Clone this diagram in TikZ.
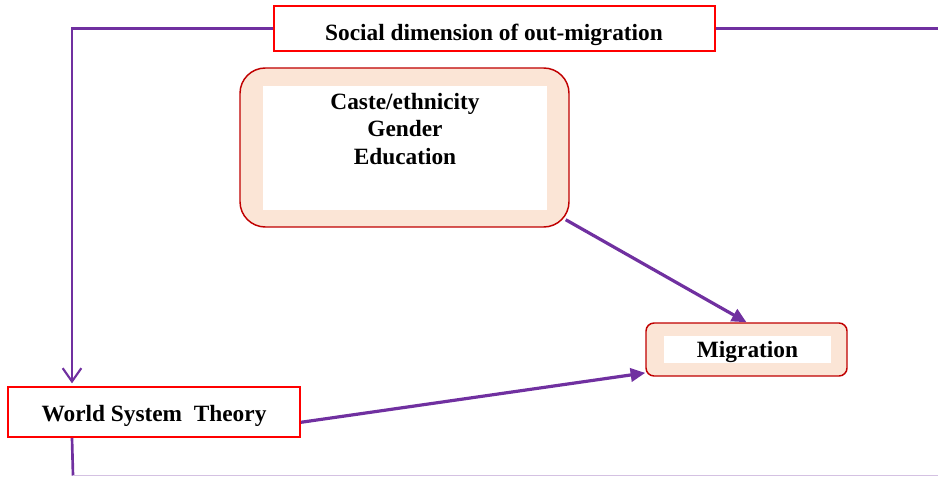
\documentclass[tikz,border=0pt]{standalone}
\usepackage{fontspec}
\setmainfont{Liberation Serif}
\usetikzlibrary{arrows.meta,positioning,calc}
\definecolor{linkpurple}{HTML}{7030A0}
\definecolor{boxred}{HTML}{FF0000}
\definecolor{darkred}{HTML}{C00000}
\definecolor{peach}{HTML}{FBE5D6}
\tikzset{
  plainbox/.style={draw=boxred,fill=white,line width=1.5pt,inner sep=0pt},
  framebox/.style={draw=darkred,fill=peach,line width=1.1pt,inner sep=0pt},
  innerbox/.style={fill=white,inner sep=0pt},
  boxtext/.style={font=\fontsize{17.5}{20.8}\selectfont\bfseries,align=center},
  linkarr/.style={-{Triangle[length=11pt,width=10pt]},line width=2.4pt,color=linkpurple},
  feedline/.style={line width=2pt,color=linkpurple}
}
\begin{document}
\begin{tikzpicture}[x=0.75pt,y=-0.75pt]
  \useasboundingbox (0,0) rectangle (938,477);
  % boxes
  \node[plainbox,minimum width=330.75pt,minimum height=33.75pt] (social) at (494.5,28.5) {};
  \node[boxtext] (socialtext) at (494,34.5) {Social dimension of out-migration};

  \node[framebox,rounded corners=19pt,minimum width=246.75pt,minimum height=119.25pt] (caste) at (404.5,147.5) {};
  \node[innerbox,minimum width=213pt,minimum height=93pt] (casteinner) at (405,148) {};
  \node[boxtext] (castetext) at (405,129) {Caste/ethnicity\\Gender\\Education};

  \node[framebox,rounded corners=6pt,minimum width=150.75pt,minimum height=39.75pt] (migr) at (746.5,349.5) {};
  \node[innerbox,boxtext,text height=15.5pt,minimum width=125.25pt,minimum height=20.25pt] (migrtext) at (747.5,349.5) {Migration};

  \node[plainbox,boxtext,text height=18.5pt,minimum width=219pt,minimum height=37.5pt] (wst) at (154,412) {World System\ \ Theory};

  % connectors
  \coordinate (rightend) at (938,28.5);
  \coordinate (bottomleft) at (73,475.5);
  \coordinate (bottomright) at (938,475.5);
  \draw[feedline,-{Straight Barb[length=10pt,width=14pt,line width=1.6pt]}]
    (social.west) -| ([xshift=48.75pt,yshift=2pt]wst.north west);
  \draw[feedline] (social.east) -- (rightend);
  \draw[feedline] ([xshift=48.75pt]wst.south west) -- (bottomleft);
  \draw[line width=1pt,color=linkpurple!30] (bottomleft) -- (bottomright);
  \draw[linkarr] ([xshift=-3pt,yshift=1pt]caste.-24) -- (migr.north);
  \draw[linkarr] (wst.-4) -- (migr.193);
\end{tikzpicture}
\end{document}
